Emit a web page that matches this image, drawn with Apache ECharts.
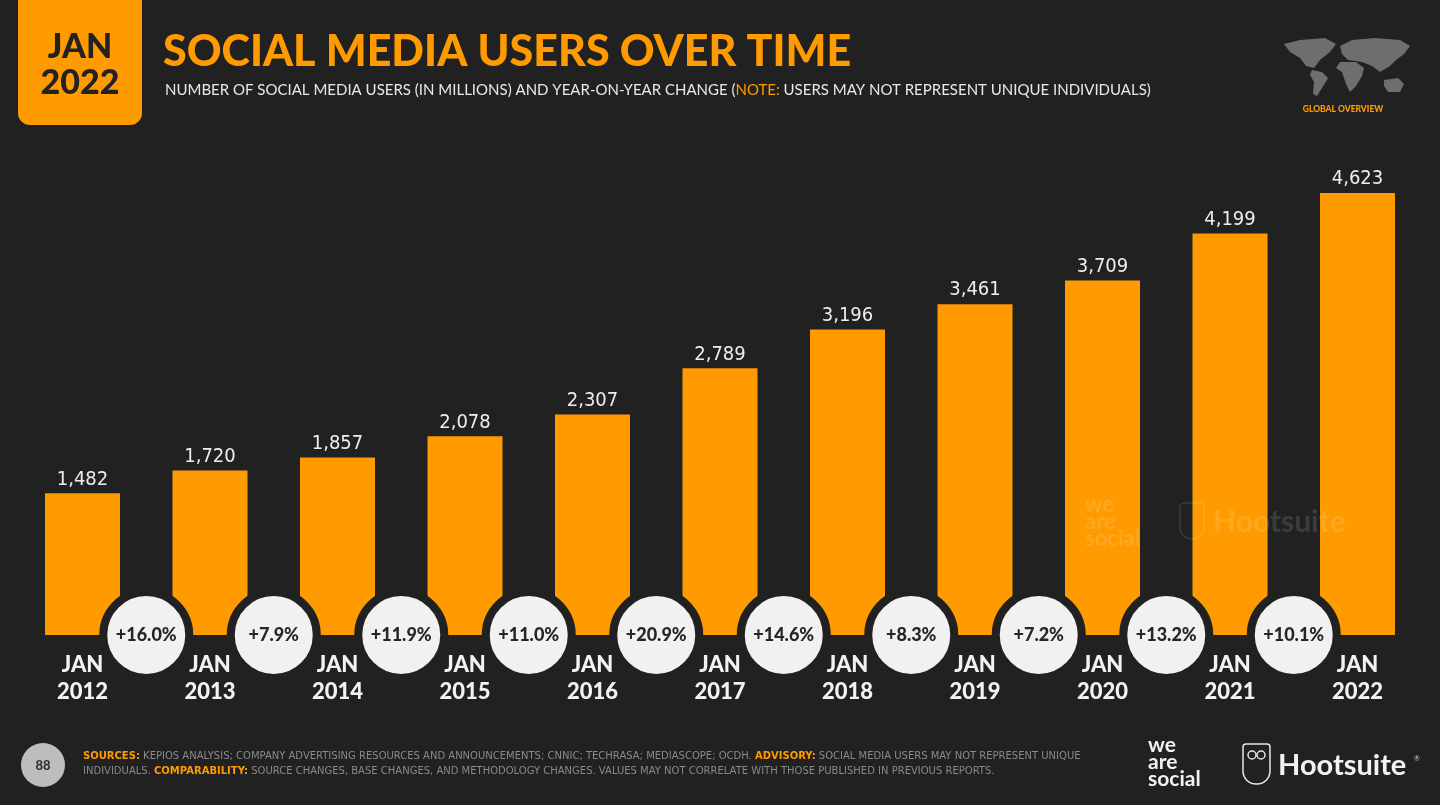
<!DOCTYPE html>
<html><head><meta charset="utf-8">
<script src="https://cdn.jsdelivr.net/npm/echarts@6/dist/echarts.min.js"></script>
<style>html,body{margin:0;padding:0;background:#212121;}#c{width:1440px;height:805px;}</style>
</head><body><div id="c"></div>
<script>
const years = ['2012','2013','2014','2015','2016','2017','2018','2019','2020','2021','2022'];
const users = [1482,1720,1857,2078,2307,2789,3196,3461,3709,4199,4623];
const yoyChange = ['+16.0%','+7.9%','+11.9%','+11.0%','+20.9%','+14.6%','+8.3%','+7.2%','+13.2%','+10.1%'];

const BG = '#212121', ORANGE = '#FF9B00';
const chart = echarts.init(document.getElementById('c'));
const cats = years.map(y => 'JAN\n' + y);
const bubbles = yoyChange.map((v, i) => ({ value: [i + 1, 0], label: v }));

function poly(pts){ return {type:'polygon', shape:{points:pts}, style:{fill:'#6e6e6e'}, silent:true}; }
const WM = 'rgba(255,255,255,0.12)';

chart.setOption({
  backgroundColor: BG,
  animation: false,
  grid: { left: 18.75, right: 18.75, top: 157, bottom: 170 },
  xAxis: [
    { type:'category', data: cats, axisLine:{show:false}, axisTick:{show:false},
      axisLabel:{ color:'#f2f2f2', fontFamily:'Lato', fontWeight:900, fontSize:22, lineHeight:27, margin:16 } },
    { type:'value', min:0, max:years.length, show:false, gridIndex:0 }
  ],
  yAxis: { type:'value', min:0, max:5000, show:false, splitLine:{show:false} },
  series: [
    { type:'bar', data: users, barWidth: 75, itemStyle:{ color: ORANGE },
      label:{ show:true, position:'top', distance:4, color:'#eeeeee', fontFamily:'DejaVu Sans Condensed', fontSize:20,
        formatter: p => p.value.toLocaleString('en-US') } },
    { type:'scatter', xAxisIndex:1, yAxisIndex:0, clip:false, z:5,
      data: bubbles, symbol:'circle', symbolSize: 86,
      itemStyle:{ color:'#f1f1f1', borderColor: BG, borderWidth: 8, opacity:1 },
      label:{ show:true, position:'inside', color:'#262626', fontFamily:'Lato', fontWeight:900, fontSize:18,
        formatter: p => p.data.label } }
  ],
  graphic: [
    { type:'rect', shape:{x:18,y:-15,width:124,height:140,r:12}, style:{fill:ORANGE}, silent:true },
    { type:'text', x:80, y:47, style:{text:'JAN', fill:'#222', font:'900 34px Lato', align:'center', verticalAlign:'middle'} },
    { type:'text', x:80, y:83, style:{text:'2022', fill:'#222', font:'900 34px Lato', align:'center', verticalAlign:'middle'} },
    { type:'text', x:163, y:52, style:{text:'SOCIAL MEDIA USERS OVER TIME', fill:ORANGE, font:'900 43px Lato', verticalAlign:'middle'} },
    { type:'text', x:165, y:90, style:{ rich:{ w:{fill:'#e8e8e8', font:'400 15px Lato'}, o:{fill:ORANGE, font:'400 15px Lato'} },
        text:'{w|NUMBER OF SOCIAL MEDIA USERS (IN MILLIONS) AND YEAR-ON-YEAR CHANGE (}{o|NOTE:}{w| USERS MAY NOT REPRESENT UNIQUE INDIVIDUALS)}', verticalAlign:'middle'} },
    poly([[1284,44],[1300,40],[1325,38],[1336,44],[1330,52],[1320,60],[1314,68],[1306,66],[1300,58],[1290,52]]),
    poly([[1312,70],[1322,72],[1328,78],[1322,88],[1317,96],[1313,94],[1314,82],[1310,75]]),
    poly([[1340,46],[1352,40],[1375,38],[1400,40],[1410,46],[1404,54],[1396,60],[1390,66],[1380,72],[1372,66],[1362,62],[1348,60],[1342,54]]),
    poly([[1340,62],[1356,62],[1364,68],[1362,76],[1356,86],[1350,92],[1346,84],[1342,72],[1336,68]]),
    poly([[1384,80],[1398,78],[1404,84],[1400,92],[1388,92],[1384,86]]),
    { type:'text', x:1343, y:109, style:{text:'GLOBAL OVERVIEW', fill:ORANGE, font:'900 8.5px Lato', align:'center', verticalAlign:'middle'} },
    // watermark
    { type:'text', z:100, x:1085, y:496, style:{text:'we\nare\nsocial', fill:WM, font:'700 22px Lato', lineHeight:17}, silent:true },
    { type:'text', z:100, x:1213, y:522, style:{text:'Hootsuite', fill:WM, font:'700 30px Lato', verticalAlign:'middle'}, silent:true },
    { type:'rect', z:100, shape:{x:1180,y:503,width:24,height:36,r:[4,4,12,12]}, style:{fill:'none', stroke:WM, lineWidth:1.5}, silent:true },
    // footer
    { type:'circle', shape:{cx:43, cy:765, r:22}, style:{fill:'#bdbdbd'} },
    { type:'text', x:43, y:766, style:{text:'88', fill:'#333', font:'900 13px Lato', align:'center', verticalAlign:'middle'} },
    { type:'text', x:83, y:756, style:{ rich:{ g:{fill:'#8a8a8a', font:'400 10px "DejaVu Sans"'}, o:{fill:ORANGE, font:'700 10px "DejaVu Sans"'} },
        text:'{o|SOURCES:}{g| KEPIOS ANALYSIS; COMPANY ADVERTISING RESOURCES AND ANNOUNCEMENTS; CNNIC; TECHRASA; MEDIASCOPE; OCDH. }{o|ADVISORY:}{g| SOCIAL MEDIA USERS MAY NOT REPRESENT UNIQUE}', verticalAlign:'middle'} },
    { type:'text', x:83, y:771, style:{ rich:{ g:{fill:'#8a8a8a', font:'400 10px "DejaVu Sans"'}, o:{fill:ORANGE, font:'700 10px "DejaVu Sans"'} },
        text:'{g|INDIVIDUALS. }{o|COMPARABILITY:}{g| SOURCE CHANGES, BASE CHANGES, AND METHODOLOGY CHANGES. VALUES MAY NOT CORRELATE WITH THOSE PUBLISHED IN PREVIOUS REPORTS.}', verticalAlign:'middle'} },
    { type:'text', x:1148, y:737, style:{text:'we\nare\nsocial', fill:'#f2f2f2', font:'700 21px Lato', lineHeight:17}, silent:true },
    { type:'rect', shape:{x:1243,y:744,width:27,height:40,r:[3,3,13,13]}, style:{fill:'none', stroke:'#e6e6e6', lineWidth:1.5}, silent:true },
    { type:'circle', shape:{cx:1252,cy:755,r:4}, style:{fill:'none', stroke:'#e6e6e6', lineWidth:1.5} },
    { type:'circle', shape:{cx:1261,cy:755,r:4}, style:{fill:'none', stroke:'#e6e6e6', lineWidth:1.5} },
    { type:'text', x:1278, y:766, style:{text:'Hootsuite', fill:'#f2f2f2', font:'700 29px Lato', verticalAlign:'middle'} },
    { type:'text', x:1414, y:759, style:{text:'®', fill:'#cccccc', font:'400 7px Lato', verticalAlign:'middle'} }
  ]
});
</script></body></html>
